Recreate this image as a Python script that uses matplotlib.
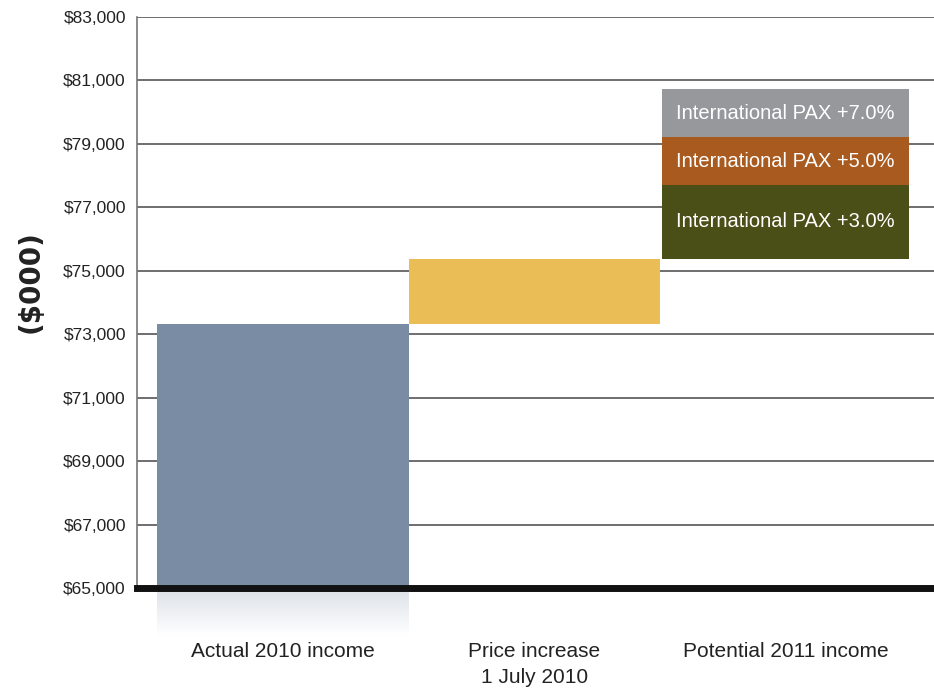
import matplotlib.pyplot as plt
import numpy as np
from matplotlib.ticker import FuncFormatter

# data ($000)
categorias = ['Actual 2010 income', 'Price increase\n1 July 2010', 'Potential 2011 income']
actual_2010 = 73320
aumento_preco = 2060
pax_labels = ['International PAX +3.0%', 'International PAX +5.0%', 'International PAX +7.0%']
pax_incrementos = [2320, 1510, 1520]

cores_pax = ['#4a4e17', '#a95a1f', '#96989b']
plt.rcParams['font.family'] = ['Liberation Sans', 'DejaVu Sans']

fig = plt.figure(figsize=(9.34, 6.94), dpi=100)
ax = fig.add_axes([0.1467, 0.1527, 0.8533, 0.8228])

base = 65000
x = np.arange(len(categorias))
ax.bar(x[0], actual_2010 - base, bottom=base, width=1.0, color='#7a8ca3', zorder=3)
ax.bar(x[1], aumento_preco, bottom=actual_2010, width=1.0, color='#ebbd57', zorder=3)
fundo = actual_2010 + aumento_preco
for lab, inc, c in zip(pax_labels, pax_incrementos, cores_pax):
    ax.bar(x[2], inc, bottom=fundo, width=0.98, color=c, zorder=3)
    ax.text(x[2], fundo + inc / 2, lab, color='white', ha='center', va='center', fontsize=14.5, zorder=4)
    fundo += inc

# reflexo suave abaixo da primeira barra
grad = np.linspace(0.25, 0, 50).reshape(-1, 1)
cmap = plt.matplotlib.colors.LinearSegmentedColormap.from_list('r', ['white', '#7a8ca3'])
ax.imshow(grad, extent=(-0.5, 0.5, base - 1500, base - 80), aspect='auto', cmap=cmap,
          vmin=0, vmax=1, clip_on=False, zorder=1)

ax.set_xlim(-0.58, 2.59)
ax.set_ylim(65000, 83000)
ax.set_yticks(np.arange(65000, 83001, 2000))
ax.yaxis.set_major_formatter(FuncFormatter(lambda v, p: f'${v:,.0f}'))
ax.tick_params(axis='y', length=0, pad=8, labelsize=12.5, labelcolor='#222222')
ax.set_xticks([])
ax.grid(axis='y', color='#555555', linewidth=1.2, zorder=0)
ax.axhline(65000, color='#111111', linewidth=5, zorder=5, clip_on=False)
for s in ['top', 'right', 'bottom']:
    ax.spines[s].set_visible(False)
ax.spines['left'].set_color('#777777')
ax.spines['left'].set_linewidth(1.2)

for xi, cat in zip(x, categorias):
    ax.text(xi, 63300, cat, ha='center', va='top', fontsize=15, color='#222222',
            linespacing=1.5, clip_on=False)

fig.text(0.033, 0.595, '($000)', rotation=90, ha='center', va='center', fontsize=20,
         fontweight='bold', color='#222222', family=['DejaVu Sans'])

fig.savefig('out.png', dpi=100)
